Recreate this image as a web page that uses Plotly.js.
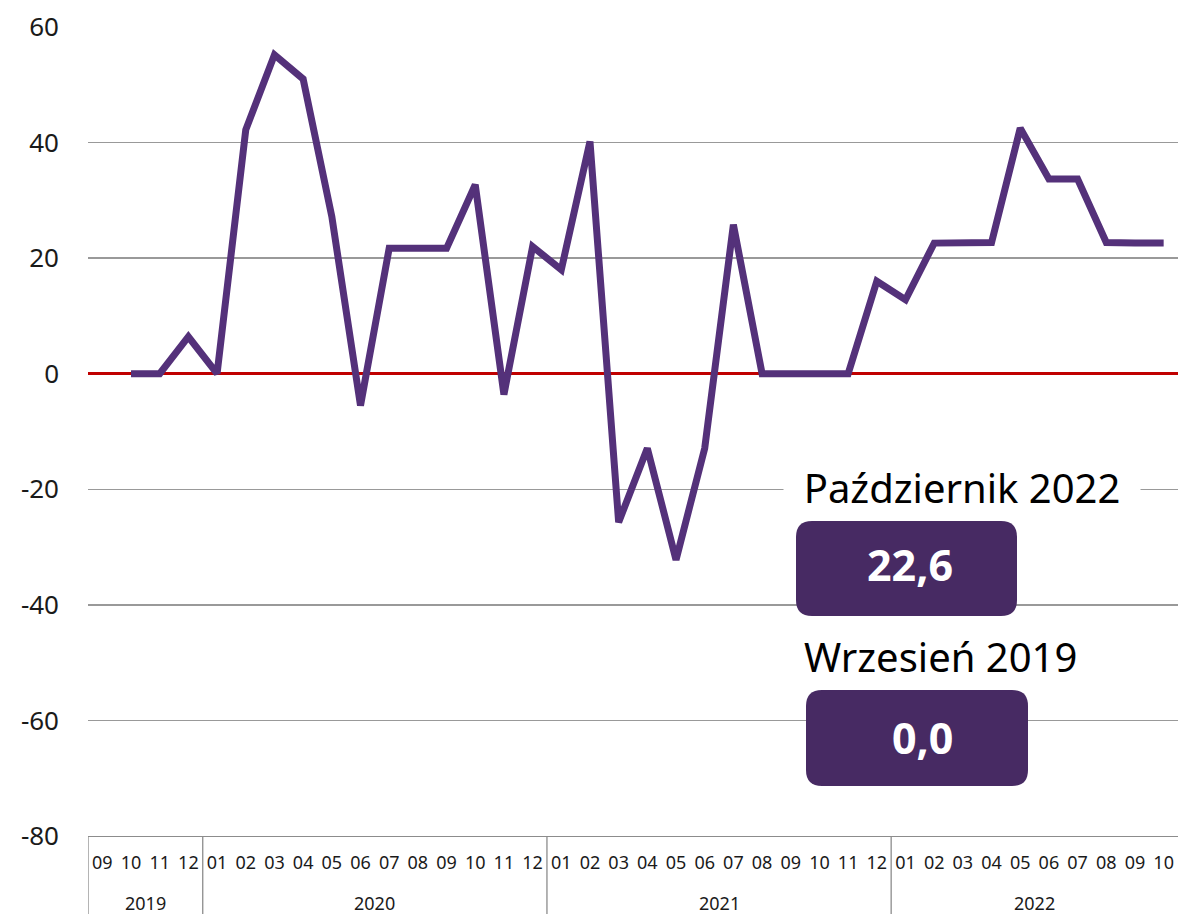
<!DOCTYPE html>
<html>
<head>
<meta charset="utf-8">
<script src="https://cdn.plot.ly/plotly-3.0.1.min.js"></script>
<style>
  html, body { margin: 0; padding: 0; background: #ffffff; }
  #chart { width: 1178px; height: 914px; }
</style>
</head>
<body>
<div id="chart"></div>
<script>
// ---- data ----
const years = ['2019','2019','2019','2019',
  '2020','2020','2020','2020','2020','2020','2020','2020','2020','2020','2020','2020',
  '2021','2021','2021','2021','2021','2021','2021','2021','2021','2021','2021','2021',
  '2022','2022','2022','2022','2022','2022','2022','2022','2022','2022'];
const months = ['09','10','11','12',
  '01','02','03','04','05','06','07','08','09','10','11','12',
  '01','02','03','04','05','06','07','08','09','10','11','12',
  '01','02','03','04','05','06','07','08','09','10'];
const values = [null, 0, 0, 6.4,
  0, 42.2, 55.2, 51.0, 27.2, -5.5, 21.7, 21.7, 21.7, 32.7, -3.6, 22.0,
  18.0, 40.2, -25.7, -12.9, -32.2, -12.9, 25.8, 0, 0, 0, 0, 16.0,
  12.8, 22.6, 22.7, 22.7, 42.5, 33.7, 33.7, 22.7, 22.6, 22.6];
const yTickVals = [-80, -60, -40, -20, 0, 20, 40, 60];
const yTickText = ['-80', '-60', '-40', '-20', '0', '20', '40', '60'];
const latestLabel = 'Październik 2022';
const latestValue = '22,6';
const baseLabel = 'Wrzesień 2019';
const baseValue = '0,0';

// ---- geometry of plot area (pixels) ----
const L = 88, T = 27, W = 1090, H = 809;
function px2x(px) { return (px - L) / W; }
function px2y(py) { return (T + H - py) / H; }
function roundRect(x0, y0, x1, y1, r) {
  const X = px2x, Y = px2y;
  return 'M' + X(x0 + r) + ',' + Y(y0) +
    ' L' + X(x1 - r) + ',' + Y(y0) +
    ' Q' + X(x1) + ',' + Y(y0) + ' ' + X(x1) + ',' + Y(y0 + r) +
    ' L' + X(x1) + ',' + Y(y1 - r) +
    ' Q' + X(x1) + ',' + Y(y1) + ' ' + X(x1 - r) + ',' + Y(y1) +
    ' L' + X(x0 + r) + ',' + Y(y1) +
    ' Q' + X(x0) + ',' + Y(y1) + ' ' + X(x0) + ',' + Y(y1 - r) +
    ' L' + X(x0) + ',' + Y(y0 + r) +
    ' Q' + X(x0) + ',' + Y(y0) + ' ' + X(x0 + r) + ',' + Y(y0) + ' Z';
}

const boxColor = '#472a63';
const lineColor = '#54317a';
const divColor = '#8c8c8c';

const idx = months.map((m, i) => i);

// year groups -> year labels and dividers
const groups = [];
years.forEach((y, i) => {
  const g = groups[groups.length - 1];
  if (!g || g.year !== y) groups.push({ year: y, start: i, end: i });
  else g.end = i;
});

const shapes = [];
groups.forEach(g => {
  shapes.push({ type: 'line', xref: 'x', yref: 'paper', x0: g.start - 0.5, x1: g.start - 0.5,
    y0: 0, y1: px2y(920), line: { color: divColor, width: 1.3 } });
});
shapes.push({ type: 'path', xref: 'paper', yref: 'paper', path: roundRect(796, 521, 1017, 616, 16),
  fillcolor: boxColor, line: { width: 0 }, layer: 'above' });
shapes.push({ type: 'path', xref: 'paper', yref: 'paper', path: roundRect(806, 690, 1028, 786, 16),
  fillcolor: boxColor, line: { width: 0 }, layer: 'above' });

const annotations = groups.map(g => ({
  xref: 'x', yref: 'paper', x: (g.start + g.end) / 2, y: px2y(903),
  xanchor: 'center', yanchor: 'middle', text: g.year, showarrow: false,
  font: { size: 18, color: '#1a1a1a' }
}));
annotations.push(
  { xref: 'paper', yref: 'paper', x: px2x(962), y: px2y(487), xanchor: 'center', yanchor: 'middle',
    text: latestLabel, showarrow: false, font: { size: 40, color: '#000000' },
    bgcolor: '#ffffff', borderpad: 2, width: 352 },
  { xref: 'paper', yref: 'paper', x: px2x(910), y: px2y(564), xanchor: 'center', yanchor: 'middle',
    text: '<b>' + latestValue + '</b>', showarrow: false, font: { size: 43, color: '#ffffff' } },
  { xref: 'paper', yref: 'paper', x: px2x(940), y: px2y(656), xanchor: 'center', yanchor: 'middle',
    text: baseLabel, showarrow: false, font: { size: 40, color: '#000000' } },
  { xref: 'paper', yref: 'paper', x: px2x(922), y: px2y(737), xanchor: 'center', yanchor: 'middle',
    text: '<b>' + baseValue + '</b>', showarrow: false, font: { size: 43, color: '#ffffff' } }
);

const trace = {
  type: 'scatter',
  mode: 'lines',
  x: idx,
  y: values,
  line: { color: lineColor, width: 7 },
  connectgaps: false,
  hoverinfo: 'skip'
};

const layout = {
  width: 1178,
  height: 914,
  margin: { l: L, r: 1178 - L - W, t: T, b: 914 - T - H },
  paper_bgcolor: '#ffffff',
  plot_bgcolor: '#ffffff',
  font: { family: 'Noto Sans, sans-serif', color: '#1a1a1a' },
  showlegend: false,
  xaxis: {
    range: [-0.5, months.length - 0.5],
    tickvals: idx,
    ticktext: months,
    tickangle: 0,
    showgrid: false,
    showline: true,
    linecolor: divColor,
    linewidth: 1.3,
    tickfont: { size: 18, color: '#1a1a1a' },
    ticks: '',
    ticklabelstandoff: 10,
    zeroline: false,
    fixedrange: true
  },
  yaxis: {
    range: [-80, 60],
    tickvals: yTickVals,
    ticktext: yTickText,
    tickfont: { size: 26, color: '#1a1a1a' },
    ticklabelstandoff: 28,
    showgrid: true,
    gridcolor: '#999999',
    gridwidth: 1.3,
    zeroline: true,
    zerolinecolor: '#c00000',
    zerolinewidth: 2.5,
    showline: false,
    ticks: '',
    fixedrange: true
  },
  shapes: shapes,
  annotations: annotations
};

Plotly.newPlot('chart', [trace], layout, { displayModeBar: false, staticPlot: true });
</script>
</body>
</html>
